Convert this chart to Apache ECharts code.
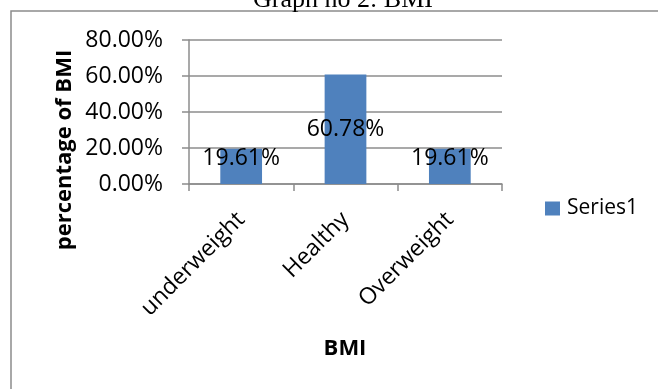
<!DOCTYPE html>
<html>
<head>
<meta charset="utf-8">
<script src="https://cdn.jsdelivr.net/npm/echarts@6/dist/echarts.min.js"></script>
<style>
  html, body { margin: 0; padding: 0; background: #ffffff; }
  #chart { width: 658px; height: 389px; }
</style>
</head>
<body>
<div id="chart"></div>
<script>
// BMI distribution of respondents
const categories = ['underweight', 'Healthy', 'Overweight'];
const seriesName = 'Series1';
const shares = [0.1961, 0.6078, 0.1961];
const yTicks = [0, 0.2, 0.4, 0.6, 0.8];

const gray = '#8c8c8c';
const uiFont = '"Open Sans", "Noto Sans", sans-serif';

const pct = v => (v * 100).toFixed(2) + '%';

// short bars carry their label slightly above the bar's middle
const barData = shares.map(v => ({
  value: v,
  label: { offset: v < 0.3 ? [0, -8] : [0, 0] }
}));

const chart = echarts.init(document.getElementById('chart'), null, { renderer: 'canvas' });

chart.setOption({
  animation: false,
  backgroundColor: '#ffffff',
  graphic: [
    {
      type: 'rect',
      shape: { x: 11, y: 11, width: 720, height: 460 },
      style: { fill: 'none', stroke: gray, lineWidth: 1.5 },
      silent: true
    },
    {
      type: 'text',
      x: 343, y: 13,
      style: {
        text: 'Graph no 2: BMI',
        font: '26px "Liberation Serif", serif',
        fill: '#000',
        align: 'center',
        verticalAlign: 'bottom'
      }
    },
    {
      type: 'text',
      x: 65, y: 150,
      rotation: Math.PI / 2,
      style: {
        text: 'percentage of BMI',
        font: 'bold 22px ' + uiFont,
        fill: '#000',
        align: 'center',
        verticalAlign: 'middle'
      }
    },
    {
      type: 'text',
      x: 345, y: 349,
      style: {
        text: 'BMI',
        font: 'bold 22px ' + uiFont,
        fill: '#000',
        align: 'center',
        verticalAlign: 'middle'
      }
    }
  ],
  legend: {
    data: [seriesName],
    left: 540,
    top: 193,
    icon: 'rect',
    itemWidth: 15,
    itemHeight: 14,
    itemGap: 6,
    textStyle: { fontFamily: uiFont, fontSize: 21, color: '#000', padding: [0, 0, 0, 2] }
  },
  grid: {
    left: 189,
    right: 156,
    top: 40,
    bottom: 205,
    containLabel: false
  },
  xAxis: {
    type: 'category',
    data: categories,
    axisLine: { lineStyle: { color: gray, width: 1.5 } },
    axisTick: { show: true, length: 7, lineStyle: { color: gray, width: 1.5 } },
    axisLabel: {
      rotate: 45,
      margin: 32,
      fontFamily: uiFont,
      fontSize: 23,
      color: '#000',
      interval: 0
    }
  },
  yAxis: {
    type: 'value',
    min: yTicks[0],
    max: yTicks[yTicks.length - 1],
    interval: yTicks[1] - yTicks[0],
    axisLine: { show: true, lineStyle: { color: gray, width: 1.5 } },
    axisTick: { show: true, length: 7, lineStyle: { color: gray, width: 1.5 } },
    splitLine: { lineStyle: { color: gray, width: 1.5 } },
    axisLabel: {
      formatter: pct,
      margin: 26,
      fontFamily: uiFont,
      fontSize: 23,
      color: '#000'
    }
  },
  series: [{
    name: seriesName,
    type: 'bar',
    data: barData,
    barWidth: '40%',
    itemStyle: { color: '#4f81bd' },
    label: {
      show: true,
      position: 'inside',
      formatter: p => pct(p.value),
      fontFamily: uiFont,
      fontSize: 23,
      color: '#000'
    }
  }]
});
</script>
</body>
</html>
